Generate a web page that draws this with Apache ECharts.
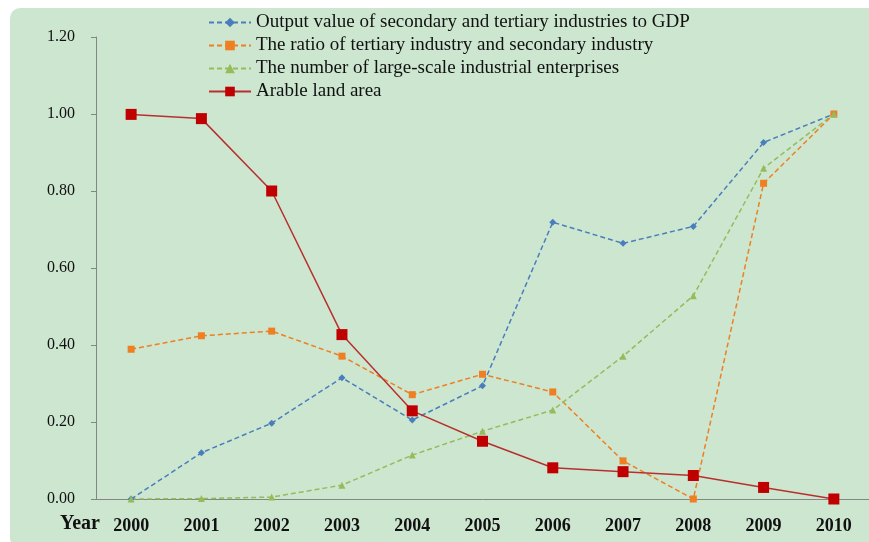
<!DOCTYPE html>
<html>
<head>
<meta charset="utf-8">
<script src="https://cdn.jsdelivr.net/npm/echarts@6/dist/echarts.min.js"></script>
<style>
  html, body { margin: 0; padding: 0; background: #fff; }
  #chart { width: 869px; height: 542px; }
</style>
</head>
<body>
<div id="chart"></div>
<script>
// data
const years = ['2000', '2001', '2002', '2003', '2004', '2005', '2006', '2007', '2008', '2009', '2010'];
const gdpShare = [0, 0.12, 0.197, 0.315, 0.205, 0.294, 0.719, 0.664, 0.708, 0.926, 1.0];
const tertiaryRatio = [0.389, 0.424, 0.436, 0.371, 0.271, 0.324, 0.278, 0.099, 0, 0.82, 1.0];
const largeEnterprises = [0, 0.001, 0.005, 0.036, 0.114, 0.176, 0.231, 0.371, 0.528, 0.859, 1.0];
const arableLand = [0.999, 0.988, 0.80, 0.427, 0.229, 0.150, 0.081, 0.071, 0.061, 0.030, 0];

const names = [
  'Output value of secondary and tertiary industries to GDP',
  'The ratio of tertiary industry and secondary industry',
  'The number of large-scale industrial enterprises',
  'Arable land area'
];

const serif = '"Liberation Serif", "DejaVu Serif", serif';

const chart = echarts.init(document.getElementById('chart'));

function dashed(name, data, color, symbol, size) {
  return {
    name: name,
    type: 'line',
    data: data,
    symbol: symbol,
    symbolSize: size,
    lineStyle: { color: color, width: 1.5, type: [5, 3] },
    itemStyle: { color: color },
    z: 2
  };
}

const option = {
  backgroundColor: '#ffffff',
  animation: false,
  graphic: [
    {
      type: 'rect',
      z: -10,
      shape: { x: 10, y: 8, width: 870, height: 540, r: 10 },
      style: { fill: '#cde6d0' }
    },
    {
      type: 'text',
      left: 60,
      top: 514,
      style: { text: 'Year', font: 'bold 20px ' + serif, fill: '#111' }
    }
  ],
  legend: {
    orient: 'vertical',
    left: 203,
    top: 8,
    itemGap: 4,
    itemWidth: 42,
    itemHeight: 12,
    textStyle: { fontFamily: serif, fontSize: 19, color: '#111' },
    data: names
  },
  grid: { left: 96, right: -9, top: 37, bottom: 43 },
  xAxis: {
    type: 'category',
    data: years,
    boundaryGap: true,
    axisLine: { lineStyle: { color: '#858585', width: 1 } },
    axisTick: { length: 6, lineStyle: { color: '#858585' } },
    axisLabel: { margin: 18, fontFamily: serif, fontSize: 18, fontWeight: 'bold', color: '#111' }
  },
  yAxis: {
    type: 'value',
    min: 0,
    max: 1.2,
    interval: 0.2,
    splitLine: { show: false },
    axisLine: { show: true, lineStyle: { color: '#858585', width: 1 } },
    axisTick: { show: true, length: 5, lineStyle: { color: '#858585' } },
    axisLabel: {
      margin: 21,
      fontFamily: serif,
      fontSize: 16,
      color: '#111',
      formatter: v => v.toFixed(2)
    }
  },
  series: [
    dashed(names[0], gdpShare, '#4a7ebb', 'diamond', 7),
    dashed(names[1], tertiaryRatio, '#ee7f22', 'rect', 7),
    dashed(names[2], largeEnterprises, '#95bb5a', 'triangle', 7),
    {
      name: names[3],
      type: 'line',
      data: arableLand,
      symbol: 'rect',
      symbolSize: 11,
      lineStyle: { color: '#b8302e', width: 1.5 },
      itemStyle: { color: '#c00000' },
      z: 3
    }
  ]
};

chart.setOption(option);
</script>
</body>
</html>
